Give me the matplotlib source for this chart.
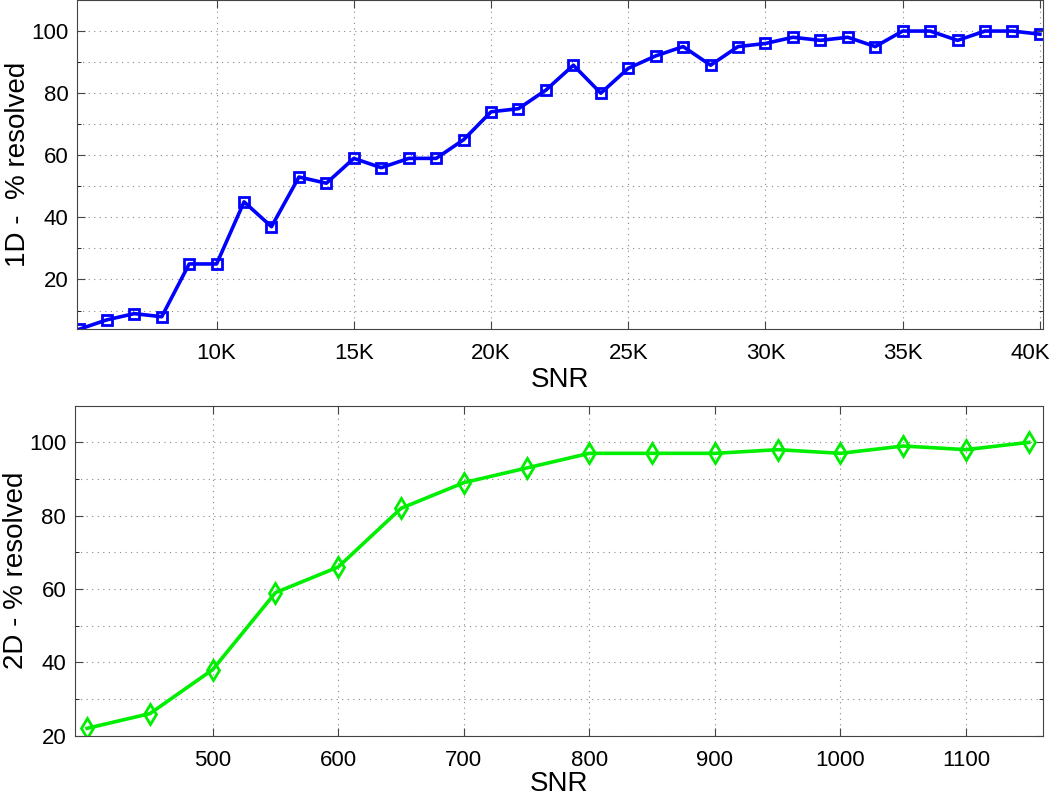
import numpy as np
import matplotlib.pyplot as plt
from matplotlib.ticker import MultipleLocator, FuncFormatter
from matplotlib.transforms import ScaledTranslation

plt.rcParams['font.family'] = ['Liberation Sans', 'DejaVu Sans']

# 1D data
snr_1d = np.arange(5000, 40001, 1000)
res_1d = [4, 7, 9, 8, 25, 25, 45, 37, 53, 51, 59, 56, 59, 59, 65, 74, 75, 81, 89, 80,
          88, 92, 95, 89, 95, 96, 98, 97, 98, 95, 100, 100, 97, 100, 100, 99]
ticks_1d = [10000, 15000, 20000, 25000, 30000, 35000, 40000]

# 2D data
snr_2d = np.arange(400, 1151, 50)
res_2d = [22, 26, 38, 59, 66, 82, 89, 93, 97, 97, 97, 98, 97, 99, 98, 100]
ticks_2d = [500, 600, 700, 800, 900, 1000, 1100]

fig = plt.figure(figsize=(10.5, 7.97), dpi=100)
ax1 = fig.add_axes([0.073, 0.587, 0.92, 0.413])
ax2 = fig.add_axes([0.071, 0.077, 0.922, 0.414])


def style(ax):
    ax.tick_params(direction='in', labelsize=16, length=6, top=True, right=True,
                   labeltop=False, labelright=False, color='#444444')
    ax.tick_params(axis='x', pad=10)
    ax.tick_params(axis='y', pad=6)
    ax.tick_params(which='minor', direction='in', length=3, top=True, right=True)
    ax.grid(True, which='both', linestyle=(0, (1, 4)), color='#888888', linewidth=0.8)
    for s in ax.spines.values():
        s.set_color('#444444')


ax1.plot(snr_1d, res_1d, color='#0000ff', lw=2.6, marker='s', ms=7,
         mfc='none', mec='#0000ff', mew=2)
ax1.set_xlim(4900, 40100)
ax1.set_ylim(4, 110)
ax1.set_xticks(ticks_1d)
ax1.xaxis.set_major_formatter(FuncFormatter(lambda v, p: f"{int(v/1000)}K"))
ax1.yaxis.set_major_locator(MultipleLocator(20))
ax1.yaxis.set_minor_locator(MultipleLocator(10))
ax1.set_xlabel('SNR', fontsize=20, labelpad=2)
ax1.set_ylabel('1D -  % resolved', fontsize=20, labelpad=0)
style(ax1)
last = ax1.get_xticklabels()[-1]
last.set_transform(last.get_transform() + ScaledTranslation(-0.1, 0, fig.dpi_scale_trans))

ax2.plot(snr_2d, res_2d, color='#00ee00', lw=2.6, marker='d', ms=10,
         mfc='none', mec='#00ee00', mew=2)
ax2.set_xlim(390, 1161)
ax2.set_ylim(20, 110)
ax2.set_xticks(ticks_2d)
ax2.yaxis.set_major_locator(MultipleLocator(20))
ax2.yaxis.set_minor_locator(MultipleLocator(10))
ax2.set_xlabel('SNR', fontsize=20, labelpad=0)
ax2.set_ylabel('2D - % resolved', fontsize=20, labelpad=0)
style(ax2)

plt.savefig('out.png', dpi=100)
